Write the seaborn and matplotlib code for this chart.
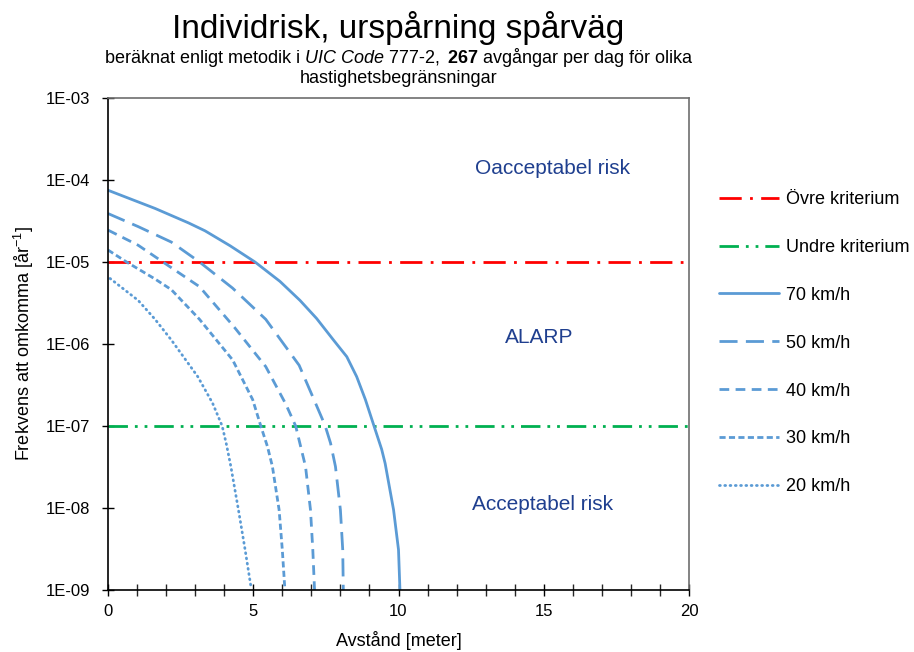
import numpy as np
import pandas as pd
import matplotlib
matplotlib.use('Agg')
import matplotlib.pyplot as plt
import matplotlib.ticker as mticker
import seaborn as sns

# Read-off values (distance in meter, frequency per year)
x_70 = [0, 0.76, 1.62, 2.77, 3.34, 4.2, 5.06, 5.92, 6.61, 7.18, 7.76, 8.22,
        8.56, 8.86, 9.13, 9.42, 9.54, 9.83, 10.0, 10.05]
y_70 = [7.5e-5, 5.9e-5, 4.5e-5, 3.0e-5, 2.4e-5, 1.58e-5, 1e-5, 5.8e-6, 3.4e-6,
        2.05e-6, 1.12e-6, 7e-7, 4e-7, 2.1e-7, 1.07e-7, 5.2e-8, 3.5e-8, 9.5e-9,
        3.1e-9, 1e-9]
x_50 = [0, 1.04, 2.18, 3.15, 4.29, 5.43, 6.58, 7.09, 7.47, 7.66, 7.83, 8.0, 8.08, 8.1]
y_50 = [3.9e-5, 2.7e-5, 1.75e-5, 1e-5, 4.8e-6, 2.0e-6, 5.5e-7, 2.1e-7, 1.02e-7,
        6.2e-8, 3.2e-8, 9.5e-9, 3.1e-9, 1e-9]
x_40 = [0, 1.04, 1.89, 3.15, 4.35, 5.43, 6.12, 6.46, 6.8, 6.97, 7.05, 7.11]
y_40 = [2.45e-5, 1.6e-5, 1e-5, 5e-6, 1.6e-6, 5.3e-7, 1.85e-7, 1e-7, 3.2e-8,
        9.5e-9, 3.1e-9, 1e-9]
x_30 = [0, 0.64, 1.62, 2.18, 3.15, 4.29, 4.98, 5.26, 5.49, 5.66, 5.89, 6.0, 6.09]
y_30 = [1.4e-5, 1e-5, 6.2e-6, 4.6e-6, 2e-6, 6.4e-7, 2.1e-7, 1e-7, 5.6e-8,
        3.2e-8, 9.5e-9, 3.1e-9, 1e-9]
x_20 = [0.07, 1.04, 1.62, 2.18, 3.09, 3.6, 3.93, 4.08, 4.23, 4.49, 4.72, 4.92]
y_20 = [6.3e-6, 3.4e-6, 2.0e-6, 1.12e-6, 4e-7, 1.9e-7, 1e-7, 5.9e-8, 3.2e-8,
        9.5e-9, 3.1e-9, 1.1e-9]

crit_x = [0, 20]
upper_crit = [1e-5, 1e-5]
lower_crit = [1e-7, 1e-7]

sns.set_style('white')
plt.rcParams['font.family'] = ['Liberation Sans', 'DejaVu Sans']
plt.rcParams['text.color'] = 'black'
plt.rcParams['axes.labelcolor'] = 'black'
plt.rcParams['mathtext.fontset'] = 'custom'
plt.rcParams['mathtext.rm'] = 'Liberation Sans'
plt.rcParams['mathtext.it'] = 'Liberation Sans:italic'
plt.rcParams['mathtext.bf'] = 'Liberation Sans:bold'

fig = plt.figure(figsize=(9.14, 6.52), dpi=100, facecolor='white')
ax = fig.add_axes([108/914, 1 - 590/652, (689-108)/914, (590-98)/652])

blue = '#5B9BD5'
lw = 2.0
series = [
    ('Övre kriterium', crit_x, upper_crit, '#FF0000', (0, (8, 3, 1, 3))),
    ('Undre kriterium', crit_x, lower_crit, '#00B050', (0, (7, 2.5, 1, 2.5, 1, 2.5))),
    ('70 km/h', x_70, y_70, blue, '-'),
    ('50 km/h', x_50, y_50, blue, (0, (6.5, 3))),
    ('40 km/h', x_40, y_40, blue, (0, (3.5, 2.3))),
    ('30 km/h', x_30, y_30, blue, (0, (2.2, 1.2))),
    ('20 km/h', x_20, y_20, blue, (0, (0.3, 1.6))),
]
for name, xs, ys, col, ls in series:
    d = pd.DataFrame({'x': xs, 'y': ys})
    sns.lineplot(data=d, x='x', y='y', ax=ax, color=col, linestyle=ls,
                 linewidth=lw, label=name, sort=False, estimator=None,
                 dash_capstyle='round' if name == '20 km/h' else 'butt',
                 solid_joinstyle='round')

ax.set_yscale('log')
ax.set_xlim(0, 20)
ax.set_ylim(1e-9, 1e-3)
ax.xaxis.set_major_locator(mticker.MultipleLocator(5))
ax.xaxis.set_minor_locator(mticker.MultipleLocator(1))
ax.yaxis.set_major_locator(mticker.LogLocator(base=10, numticks=10))
ax.yaxis.set_minor_locator(mticker.NullLocator())
ax.yaxis.set_major_formatter(mticker.FuncFormatter(lambda v, p: '1E-%02d' % round(-np.log10(v))))
ax.tick_params(axis='both', which='major', direction='inout', length=8, width=1,
               labelsize=12, colors='black', left=True, bottom=True)
ax.tick_params(axis='y', pad=9)
ax.tick_params(axis='x', pad=6)
ax.tick_params(axis='x', which='minor', direction='inout', length=8, width=1, bottom=True)

for s in ['left', 'bottom']:
    ax.spines[s].set_color('black')
    ax.spines[s].set_linewidth(1.2)
for s in ['top', 'right']:
    ax.spines[s].set_color('#6e6e6e')
    ax.spines[s].set_linewidth(1.2)

ax.set_xlabel('Avstånd [meter]', fontsize=13, labelpad=9)
ax.set_ylabel('Frekvens att omkomma [år$^{-1}$]', fontsize=13, labelpad=7)

txt_col = '#1F3F8F'
ax.text(15.3, 1.4e-4, 'Oacceptabel risk', fontsize=15, color=txt_col, ha='center', va='center')
ax.text(14.85, 1.2e-6, 'ALARP', fontsize=15, color=txt_col, ha='center', va='center')
ax.text(14.95, 1.1e-8, 'Acceptabel risk', fontsize=15, color=txt_col, ha='center', va='center')

cx = (108 + 689) / 2 / 914
fig.text(cx, 1 - 38/652, 'Individrisk, urspårning spårväg', fontsize=24,
         ha='center', va='baseline')
fig.text(cx, 1 - 63/652,
         r'beräknat enligt metodik i $\mathit{UIC\ Code\ 777}$-$\mathit{2,}$ $\mathbf{267}$ avgångar per dag för olika',
         fontsize=13, ha='center', va='baseline')
fig.text(cx, 1 - 83/652, 'hastighetsbegränsningar', fontsize=13, ha='center', va='baseline')

ax.get_legend().remove()
handles, labels = ax.get_legend_handles_labels()
fig.legend(handles, labels, loc='upper left', bbox_to_anchor=(719/914, 1 - 191/652),
           frameon=False, fontsize=13, borderpad=0, borderaxespad=0,
           handlelength=3.3, handletextpad=0.4, labelspacing=1.71)

plt.savefig('out.png', dpi=100)
